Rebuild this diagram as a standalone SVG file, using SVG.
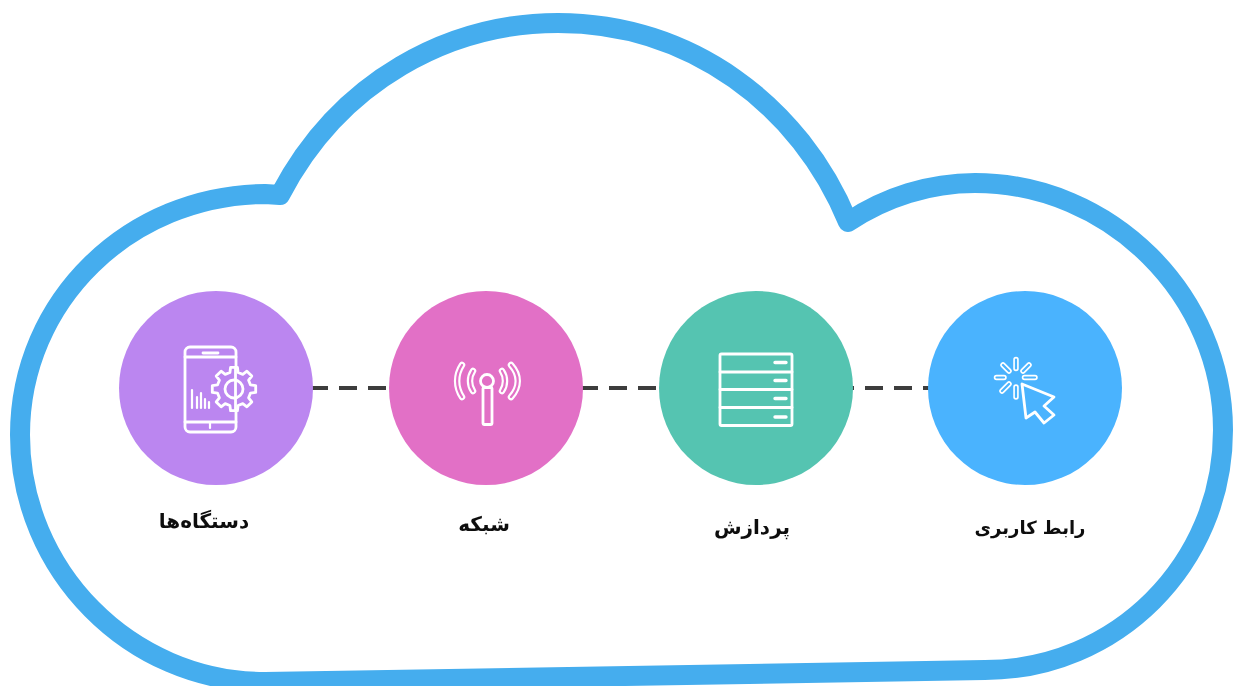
<svg xmlns="http://www.w3.org/2000/svg" width="1233" height="686" viewBox="0 0 1233 686">
<style>
.cloud{fill:#fff;stroke:#45adee;stroke-width:20;stroke-linejoin:round}
.dash{stroke:#3d3d3d;stroke-width:4;stroke-dasharray:18 11;fill:none}
.ic{fill:none;stroke:#fff;stroke-width:2.8;stroke-linecap:round;stroke-linejoin:round}
.thin{fill:none;stroke:#fff;stroke-width:2.200;stroke-linecap:round;stroke-linejoin:round}
.lab{font-family:"DejaVu Sans","Noto Sans",sans-serif;font-weight:700;font-size:20px;fill:#111;text-anchor:middle;direction:rtl}
.soft{filter:url(#soft)}
</style>
<defs><filter id="soft" x="-10%" y="-10%" width="120%" height="120%"><feGaussianBlur stdDeviation="0.45"/></filter></defs>
<rect width="1233" height="686" fill="#fff"/>
<path id="cloud" class="cloud" d="M280,195 C340,80 450,23 558,23 C690,23 800,105 848,222 C885,197 930,183 975,183 C1110,183 1223,295 1223,430 C1223,565 1115,670 985,670 L265,682 C130,682 20,570 20,435 C20,300 130,195 265,194 Z"/>
<g id="connectors">
<line class="dash" x1="310" y1="388" x2="395" y2="388"/>
<line class="dash" x1="580" y1="388" x2="665" y2="388"/>
<line class="dash" x1="836" y1="388" x2="941" y2="388"/>
</g>
<g id="node-devices">
<circle cx="216" cy="388" r="97" fill="#bb86f0"/>
<g class="soft">
<rect class="ic" x="185" y="347" width="51" height="85" rx="5"/>
<path class="ic" d="M185,357H236M185,422H236M203,353H218"/>
<path class="thin" d="M192,390V408M197,397V408M201,393V408M205,399V408M209,402V408M210,423V428"/>
<g transform="translate(234,389)">
<polygon class="ic" style="fill:#bb86f0" points="16.5,-4.1 21.7,-3.4 21.7,3.4 16.5,4.1 14.6,8.8 17.8,12.9 12.9,17.8 8.8,14.6 4.1,16.5 3.4,21.7 -3.4,21.7 -4.1,16.5 -8.8,14.6 -12.9,17.8 -17.8,12.9 -14.6,8.8 -16.5,4.1 -21.7,3.4 -21.7,-3.4 -16.500,-4.1 -14.6,-8.8 -17.8,-12.9 -12.9,-17.8 -8.8,-14.6 -4.1,-16.5 -3.4,-21.7 3.4,-21.7 4.1,-16.5 8.8,-14.6 12.9,-17.8 17.8,-12.9 14.6,-8.8"/>
<circle class="ic" r="9"/>
<path class="ic" d="M1.500,-21V21"/>
</g>
</g>
<text class="lab soft" x="204" y="528">دستگاه‌ها</text>
</g>
<g id="node-network">
<circle cx="486" cy="388" r="97" fill="#e270c6"/>
<g class="soft">
<circle class="ic" cx="487" cy="381" r="6.500"/>
<rect class="ic" x="483" y="387.500" width="9" height="37" rx="1"/>
<path d="M462,365C455.500,375 455.500,387 462,397M473,371C469,377 469,385 473,391M511,365C520,375 520,387 511,397M502,371C506,377 506,385 502,391" fill="none" stroke="#fff" stroke-width="6.500" stroke-linecap="round"/>
<path d="M462,365C455.500,375 455.500,387 462,397M473,371C469,377 469,385 473,391M511,365C520,375 520,387 511,397M502,371C506,377 506,385 502,391" fill="none" stroke="#e270c6" stroke-width="2.200" stroke-linecap="round"/>
</g>
<text class="lab soft" x="484" y="531">شبکه</text>
</g>
<g id="node-processing">
<circle cx="756" cy="388" r="97" fill="#55c4b1"/>
<g class="soft">
<rect class="ic" x="720" y="354" width="72" height="71.500" rx="1.500"/>
<path class="ic" d="M720,372H792M720,389.500H792M720,407.500H792"/>
<path d="M775,362.500H786M775,380.500H786M775,398.500H786M775,417H786" stroke="#fff" stroke-width="3.400" fill="none" stroke-linecap="round"/>
</g>
<text class="lab soft" x="752" y="534">پردازش</text>
</g>
<g id="node-ui">
<circle cx="1025" cy="388" r="97" fill="#4ab3fe"/>
<g class="soft">
<path d="M1016,359.500V368.500M1016,387V397M996.500,377.500H1004M1024.500,377.500H1035M1003,365L1009,371M1029,365L1023,371M1002,391L1009,384" fill="none" stroke="#fff" stroke-width="5.500" stroke-linecap="round"/>
<path d="M1016,359.500V368.500M1016,387V397M996.500,377.500H1004M1024.500,377.500H1035M1003,365L1009,371M1029,365L1023,371M1002,391L1009,384" fill="none" stroke="#4ab3fe" stroke-width="2.200" stroke-linecap="round"/>
<polygon class="ic" points="1022,384 1054,397 1044,406 1054,415 1044,423 1035,412 1026,418"/>
</g>
<text class="lab soft" x="1030" y="534" style="font-size:18px">رابط کاربری</text>
</g>
</svg>
